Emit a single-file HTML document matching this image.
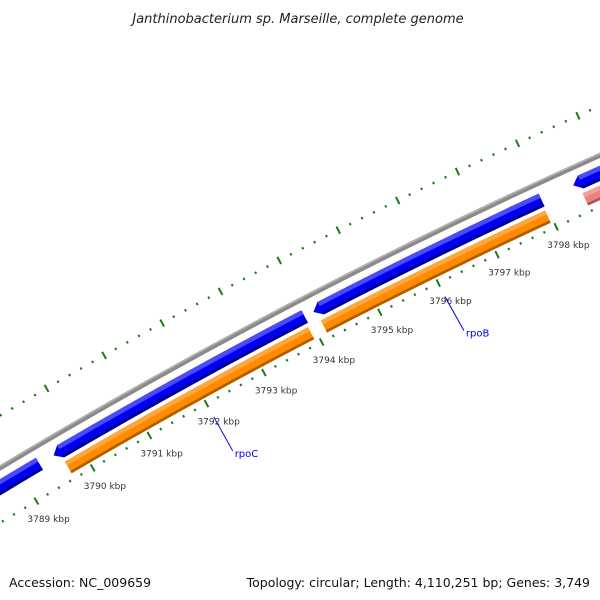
<!DOCTYPE html>
<html><head><meta charset="utf-8">
<style>
html,body{margin:0;padding:0;background:#fff;}
svg{display:block;}
text{font-family:"DejaVu Sans","Liberation Sans",sans-serif;}
</style></head>
<body>
<svg id="map" width="600" height="600" viewBox="0 0 600 600">
<text x="298" y="23" text-anchor="middle" font-size="13" font-style="italic" fill="#222">Janthinobacterium sp. Marseille, complete genome</text>
<g id="rings"></g>
<text x="9" y="587" font-size="12.5" fill="#111">Accession: NC_009659</text>
<text x="590" y="587" text-anchor="end" font-size="12.5" fill="#111">Topology: circular; Length: 4,110,251 bp; Genes: 3,749</text>
</svg>
<script>
// data
const geneStarts = [3786.0, 3789.70, 3794.22, 3798.62];
const geneEnds   = [3789.33, 3793.95, 3797.97, 3801.0];
const cdsStarts  = [3789.68, 3794.14];
const cdsEnds    = [3793.92, 3797.95];
const rnaStarts  = [3798.58];
const rnaEnds    = [3801.0];
const geneLabels = ["rpoC", "rpoB"];
const geneLabelAt = [3792.0, 3796.0];
const tickStart = 3786, tickEnd = 3801;

const NS = "http://www.w3.org/2000/svg";
const CX = 2943, CY = 5381, R0 = 5727;
const A0 = -120.12, K0 = 3790, DPK = 0.659;
function ang(k){ return (A0 + (k - K0) * DPK) * Math.PI / 180; }
function pt(r, k){ const a = ang(k); return [CX + r*Math.cos(a), CY + r*Math.sin(a)]; }
const g = document.getElementById('rings');
function mk(tag, attrs, name){
  const e = document.createElementNS(NS, tag);
  for (const k in attrs) e.setAttribute(k, attrs[k]);
  
  
  g.appendChild(e); return e;
}
function sector(ro, ri, k1, k2){
  const p1 = pt(ro,k1), p2 = pt(ro,k2), p3 = pt(ri,k2), p4 = pt(ri,k1);
  return `M${p1[0]},${p1[1]} A${ro},${ro} 0 0 1 ${p2[0]},${p2[1]} L${p3[0]},${p3[1]} A${ri},${ri} 0 0 0 ${p4[0]},${p4[1]} Z`;
}
function band(ro, ri, k1, k2, cols, name, arrowLeft){
  const h = ro - ri;
  mk('path', {d: sector(ro, ri, k1, k2), fill: cols[1]}, name);
  mk('path', {d: sector(ro, ro - h*0.33, k1, k2), fill: cols[0]}, name + '-highlight');
  mk('path', {d: sector(ri + h*0.2, ri, k1, k2), fill: cols[2]}, name + '-shadow');
  if (arrowLeft){
    const ak = 0.12;
    const a = pt(ro, k1 + 0.005), b = pt(ri, k1 + 0.005), t = pt((ro+ri)/2, k1 - ak);
    mk('path', {d: `M${a[0]},${a[1]} L${t[0]},${t[1]} L${b[0]},${b[1]} Z`, fill: cols[1]}, name + '-arrowhead');
  }
}
// backbone
mk('path', {d: sector(R0+2.5, R0-2.5, tickStart, tickEnd), fill: '#8a8a8a'}, 'backbone');
mk('path', {d: sector(R0+2.5, R0+0.8, tickStart, tickEnd), fill: '#b0b0b0'}, 'backbone-highlight');
// ticks
for (let i = 0; i <= (tickEnd - tickStart) * 5; i++){
  const k = tickStart + i * 0.2;
  const major = (i % 5 === 0);
  [R0 + 45, R0 - 47].forEach((r, j) => {
    const len = major ? 4 : 1.2;
    const a = pt(r + len, k), b = pt(r - len, k);
    mk('line', {x1: a[0], y1: a[1], x2: b[0], y2: b[1], stroke: '#1a7a1a', 'stroke-width': 2}, major ? 'major-tick' : 'minor-tick');
  });
  if (major){
    const p = pt(R0 - 47, k);
    if (p[0] - 9 >= 0 && p[1] < 560){
      const t = mk('text', {x: p[0] - 9, y: p[1] + 21, 'font-size': 9, fill: '#333'}, 'kbp-label');
      t.textContent = Math.round(k) + ' kbp';
    }
  }
}
// genes (blue)
for (let i = 0; i < geneStarts.length; i++){
  band(R0 - 9.5, R0 - 23.5, geneStarts[i], geneEnds[i], ['#4a4aff', '#0000ee', '#00008a'], 'gene-' + i, i > 0);
}
// CDS (orange)
for (let i = 0; i < cdsStarts.length; i++){
  band(R0 - 27.5, R0 - 41, cdsStarts[i], cdsEnds[i], ['#ffa640', '#ff8c00', '#b05e00'], 'cds-' + i, false);
}
// RNA (pink)
for (let i = 0; i < rnaStarts.length; i++){
  band(R0 - 27.5, R0 - 41, rnaStarts[i], rnaEnds[i], ['#f5a0a0', '#f08080', '#b05555'], 'rna-' + i, false);
}
// gene labels
for (let i = 0; i < geneLabels.length; i++){
  const p = pt(R0 - 62, geneLabelAt[i]);
  const q = [p[0] + 19, p[1] + 34];
  mk('line', {x1: p[0], y1: p[1], x2: q[0], y2: q[1], stroke: '#0000ee', 'stroke-width': 1}, 'gene-label-line');
  const t = mk('text', {x: q[0] + 2, y: q[1] + 6, 'font-size': 10, fill: '#0000ee', 'font-family': '"DejaVu Sans Mono","Liberation Mono",monospace'}, 'gene-label');
  t.textContent = geneLabels[i];
}
</script>
</body></html>
